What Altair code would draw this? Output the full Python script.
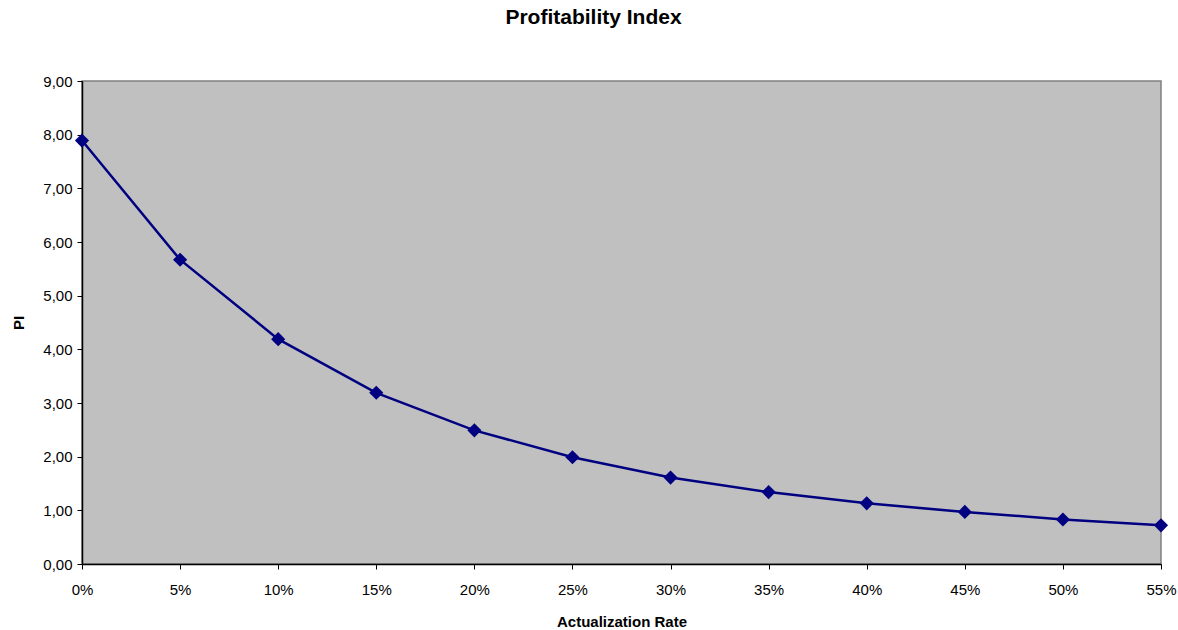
import altair as alt
import pandas as pd

rates = [0.00, 0.05, 0.10, 0.15, 0.20, 0.25, 0.30, 0.35, 0.40, 0.45, 0.50, 0.55]
pi_values = [7.89, 5.67, 4.19, 3.19, 2.49, 1.99, 1.61, 1.34, 1.13, 0.97, 0.83, 0.72]
y_ticks = [0, 1, 2, 3, 4, 5, 6, 7, 8, 9]

df = pd.DataFrame({"rate": rates, "pi": pi_values})

FONT = "Liberation Sans"
NAVY = "#000080"

x_enc = alt.X(
    "rate:Q",
    scale=alt.Scale(domain=[0, 0.55], nice=False, zero=False),
    axis=alt.Axis(
        values=rates,
        format=".0%",
        title="Actualization Rate",
        grid=False,
        domainColor="#000000",
        domainWidth=1.5,
        tickColor="#000000",
        tickSize=5,
        labelFlush=False,
        labelFont=FONT,
        labelFontSize=15,
        labelColor="#000000",
        labelPadding=13,
        titleFont=FONT,
        titleFontSize=15,
        titleFontWeight="bold",
        titleColor="#000000",
        titlePadding=17,
    ),
)
y_enc = alt.Y(
    "pi:Q",
    scale=alt.Scale(domain=[0, 9], nice=False),
    axis=alt.Axis(
        values=y_ticks,
        labelExpr="replace(format(datum.value, '.2f'), '.', ',')",
        title="PI",
        grid=False,
        domainColor="#000000",
        domainWidth=1.5,
        tickColor="#000000",
        tickSize=5,
        labelFlush=False,
        labelFont=FONT,
        labelFontSize=15,
        labelColor="#000000",
        labelPadding=5,
        titleFont=FONT,
        titleFontSize=15,
        titleFontWeight="bold",
        titleColor="#000000",
        titlePadding=16,
    ),
)

line = alt.Chart(df).mark_line(color=NAVY, strokeWidth=2.5).encode(x=x_enc, y=y_enc)
points = alt.Chart(df).mark_point(
    shape="diamond", filled=True, color=NAVY, size=200, opacity=1
).encode(x="rate:Q", y="pi:Q")

chart = (
    alt.layer(line, points)
    .properties(
        width=1079,
        height=483,
        title=alt.TitleParams(
            "Profitability Index",
            font=FONT,
            fontSize=21,
            fontWeight="bold",
            color="#000000",
            anchor="middle",
            dx=-28,
            offset=46,
        ),
        autosize=alt.AutoSizeParams(type="none"),
        padding={"left": 82, "top": 81, "right": 17, "bottom": 66},
        background="#FFFFFF",
    )
    .configure_view(fill="#C0C0C0", stroke="#808080", strokeWidth=1.5)
)

chart.save("out.html", embed_options={"renderer": "svg", "actions": False})
